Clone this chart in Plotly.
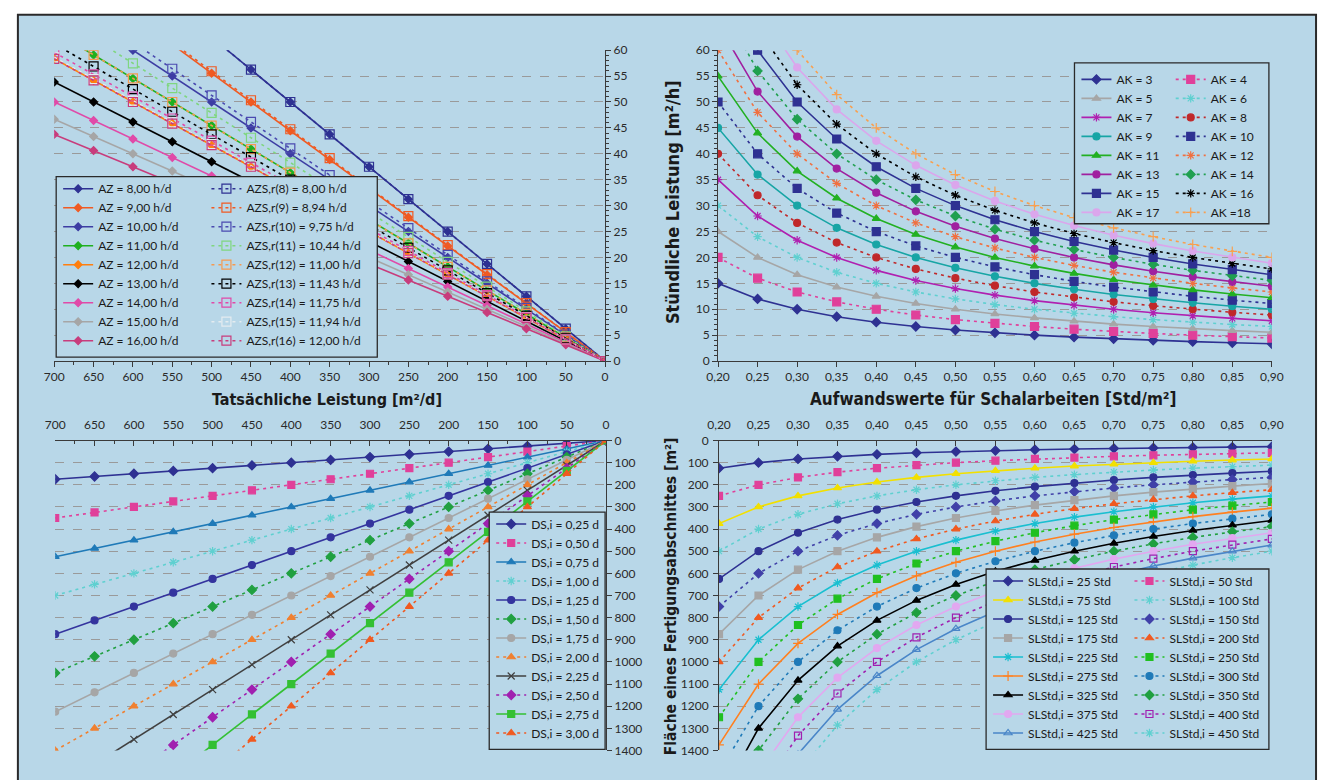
import plotly.graph_objects as go

W, H = 1330, 780

# ---------------- shared x values ----------------
leistung = [700, 650, 600, 550, 500, 450, 400, 350, 300, 250, 200, 150, 100, 50, 0]
aufwand = [0.20, 0.25, 0.30, 0.35, 0.40, 0.45, 0.50, 0.55, 0.60, 0.65, 0.70, 0.75, 0.80, 0.85, 0.90]

# ---------------- top left: Stündliche Leistung vs. tatsächliche Leistung ----------------
az_labels = ["AZ = 8,00 h/d", "AZ = 9,00 h/d", "AZ = 10,00 h/d", "AZ = 11,00 h/d", "AZ = 12,00 h/d",
             "AZ = 13,00 h/d", "AZ = 14,00 h/d", "AZ = 15,00 h/d", "AZ = 16,00 h/d"]
y_az8 = [87.5, 81.25, 75.0, 68.75, 62.5, 56.25, 50.0, 43.75, 37.5, 31.25, 25.0, 18.75, 12.5, 6.25, 0]
y_az9 = [77.78, 72.22, 66.67, 61.11, 55.56, 50.0, 44.44, 38.89, 33.33, 27.78, 22.22, 16.67, 11.11, 5.56, 0]
y_az10 = [70.0, 65.0, 60.0, 55.0, 50.0, 45.0, 40.0, 35.0, 30.0, 25.0, 20.0, 15.0, 10.0, 5.0, 0]
y_az11 = [63.64, 59.09, 54.55, 50.0, 45.45, 40.91, 36.36, 31.82, 27.27, 22.73, 18.18, 13.64, 9.09, 4.55, 0]
y_az12 = [58.33, 54.17, 50.0, 45.83, 41.67, 37.5, 33.33, 29.17, 25.0, 20.83, 16.67, 12.5, 8.33, 4.17, 0]
y_az13 = [53.85, 50.0, 46.15, 42.31, 38.46, 34.62, 30.77, 26.92, 23.08, 19.23, 15.38, 11.54, 7.69, 3.85, 0]
y_az14 = [50.0, 46.43, 42.86, 39.29, 35.71, 32.14, 28.57, 25.0, 21.43, 17.86, 14.29, 10.71, 7.14, 3.57, 0]
y_az15 = [46.67, 43.33, 40.0, 36.67, 33.33, 30.0, 26.67, 23.33, 20.0, 16.67, 13.33, 10.0, 6.67, 3.33, 0]
y_az16 = [43.75, 40.63, 37.5, 34.38, 31.25, 28.13, 25.0, 21.88, 18.75, 15.63, 12.5, 9.38, 6.25, 3.13, 0]

azs_labels = ["AZS,r(8) = 8,00 h/d", "AZS,r(9) = 8,94 h/d", "AZS,r(10) = 9,75 h/d", "AZS,r(11) = 10,44 h/d",
              "AZS,r(12) = 11,00 h/d", "AZS,r(13) = 11,43 h/d", "AZS,r(14) = 11,75 h/d",
              "AZS,r(15) = 11,94 h/d", "AZS,r(16) = 12,00 h/d"]
y_azs8 = [87.5, 81.25, 75.0, 68.75, 62.5, 56.25, 50.0, 43.75, 37.5, 31.25, 25.0, 18.75, 12.5, 6.25, 0]
y_azs9 = [78.3, 72.71, 67.11, 61.52, 55.93, 50.34, 44.74, 39.15, 33.56, 27.96, 22.37, 16.78, 11.19, 5.59, 0]
y_azs10 = [71.79, 66.67, 61.54, 56.41, 51.28, 46.15, 41.03, 35.9, 30.77, 25.64, 20.51, 15.38, 10.26, 5.13, 0]
y_azs11 = [67.05, 62.26, 57.47, 52.68, 47.89, 43.1, 38.31, 33.52, 28.74, 23.95, 19.16, 14.37, 9.58, 4.79, 0]
y_azs12 = [63.64, 59.09, 54.55, 50.0, 45.45, 40.91, 36.36, 31.82, 27.27, 22.73, 18.18, 13.64, 9.09, 4.55, 0]
y_azs13 = [61.24, 56.87, 52.49, 48.12, 43.74, 39.37, 35.0, 30.62, 26.25, 21.87, 17.5, 13.12, 8.75, 4.37, 0]
y_azs14 = [59.57, 55.32, 51.06, 46.81, 42.55, 38.3, 34.04, 29.79, 25.53, 21.28, 17.02, 12.77, 8.51, 4.26, 0]
y_azs15 = [58.63, 54.44, 50.25, 46.06, 41.88, 37.69, 33.5, 29.31, 25.13, 20.94, 16.75, 12.56, 8.38, 4.19, 0]
y_azs16 = [58.33, 54.17, 50.0, 45.83, 41.67, 37.5, 33.33, 29.17, 25.0, 20.83, 16.67, 12.5, 8.33, 4.17, 0]

# ---------------- top right: Stündliche Leistung vs. Aufwandswerte ----------------
ak_labels = ["AK = 3", "AK = 4", "AK = 5", "AK = 6", "AK = 7", "AK = 8", "AK = 9", "AK = 10",
             "AK = 11", "AK = 12", "AK = 13", "AK = 14", "AK = 15", "AK = 16", "AK = 17", "AK =18"]
y_ak3 = [15, 12, 10, 8.57, 7.5, 6.67, 6, 5.45, 5, 4.62, 4.29, 4, 3.75, 3.53, 3.33]
y_ak4 = [20, 16, 13.33, 11.43, 10, 8.89, 8, 7.27, 6.67, 6.15, 5.71, 5.33, 5, 4.71, 4.44]
y_ak5 = [25, 20, 16.67, 14.29, 12.5, 11.11, 10, 9.09, 8.33, 7.69, 7.14, 6.67, 6.25, 5.88, 5.56]
y_ak6 = [30, 24, 20, 17.14, 15, 13.33, 12, 10.91, 10, 9.23, 8.57, 8, 7.5, 7.06, 6.67]
y_ak7 = [35, 28, 23.33, 20, 17.5, 15.56, 14, 12.73, 11.67, 10.77, 10, 9.33, 8.75, 8.24, 7.78]
y_ak8 = [40, 32, 26.67, 22.86, 20, 17.78, 16, 14.55, 13.33, 12.31, 11.43, 10.67, 10, 9.41, 8.89]
y_ak9 = [45, 36, 30, 25.71, 22.5, 20, 18, 16.36, 15, 13.85, 12.86, 12, 11.25, 10.59, 10]
y_ak10 = [50, 40, 33.33, 28.57, 25, 22.22, 20, 18.18, 16.67, 15.38, 14.29, 13.33, 12.5, 11.76, 11.11]
y_ak11 = [55, 44, 36.67, 31.43, 27.5, 24.44, 22, 20, 18.33, 16.92, 15.71, 14.67, 13.75, 12.94, 12.22]
y_ak12 = [60, 48, 40, 34.29, 30, 26.67, 24, 21.82, 20, 18.46, 17.14, 16, 15, 14.12, 13.33]
y_ak13 = [65, 52, 43.33, 37.14, 32.5, 28.89, 26, 23.64, 21.67, 20, 18.57, 17.33, 16.25, 15.29, 14.44]
y_ak14 = [70, 56, 46.67, 40, 35, 31.11, 28, 25.45, 23.33, 21.54, 20, 18.67, 17.5, 16.47, 15.56]
y_ak15 = [75, 60, 50, 42.86, 37.5, 33.33, 30, 27.27, 25, 23.08, 21.43, 20, 18.75, 17.65, 16.67]
y_ak16 = [80, 64, 53.33, 45.71, 40, 35.56, 32, 29.09, 26.67, 24.62, 22.86, 21.33, 20, 18.82, 17.78]
y_ak17 = [85, 68, 56.67, 48.57, 42.5, 37.78, 34, 30.91, 28.33, 26.15, 24.29, 22.67, 21.25, 20, 18.89]
y_ak18 = [90, 72, 60, 51.43, 45, 40, 36, 32.73, 30, 27.69, 25.71, 24, 22.5, 21.18, 20]

# ---------------- bottom left: Fläche vs. tatsächliche Leistung ----------------
ds_labels = ["DS,i = 0,25 d", "DS,i = 0,50 d", "DS,i = 0,75 d", "DS,i = 1,00 d", "DS,i = 1,25 d",
             "DS,i = 1,50 d", "DS,i = 1,75 d", "DS,i = 2,00 d", "DS,i = 2,25 d", "DS,i = 2,50 d",
             "DS,i = 2,75 d", "DS,i = 3,00 d"]
a_ds025 = [175, 162.5, 150, 137.5, 125, 112.5, 100, 87.5, 75, 62.5, 50, 37.5, 25, 12.5, 0]
a_ds050 = [350, 325, 300, 275, 250, 225, 200, 175, 150, 125, 100, 75, 50, 25, 0]
a_ds075 = [525, 487.5, 450, 412.5, 375, 337.5, 300, 262.5, 225, 187.5, 150, 112.5, 75, 37.5, 0]
a_ds100 = [700, 650, 600, 550, 500, 450, 400, 350, 300, 250, 200, 150, 100, 50, 0]
a_ds125 = [875, 812.5, 750, 687.5, 625, 562.5, 500, 437.5, 375, 312.5, 250, 187.5, 125, 62.5, 0]
a_ds150 = [1050, 975, 900, 825, 750, 675, 600, 525, 450, 375, 300, 225, 150, 75, 0]
a_ds175 = [1225, 1137.5, 1050, 962.5, 875, 787.5, 700, 612.5, 525, 437.5, 350, 262.5, 175, 87.5, 0]
a_ds200 = [1400, 1300, 1200, 1100, 1000, 900, 800, 700, 600, 500, 400, 300, 200, 100, 0]
a_ds225 = [1575, 1462.5, 1350, 1237.5, 1125, 1012.5, 900, 787.5, 675, 562.5, 450, 337.5, 225, 112.5, 0]
a_ds250 = [1750, 1625, 1500, 1375, 1250, 1125, 1000, 875, 750, 625, 500, 375, 250, 125, 0]
a_ds275 = [1925, 1787.5, 1650, 1512.5, 1375, 1237.5, 1100, 962.5, 825, 687.5, 550, 412.5, 275, 137.5, 0]
a_ds300 = [2100, 1950, 1800, 1650, 1500, 1350, 1200, 1050, 900, 750, 600, 450, 300, 150, 0]

# ---------------- bottom right: Fläche vs. Aufwandswerte ----------------
sl_labels = ["SLStd,i = 25 Std", "SLStd,i = 50 Std", "SLStd,i = 75 Std", "SLStd,i = 100 Std",
             "SLStd,i = 125 Std", "SLStd,i = 150 Std", "SLStd,i = 175 Std", "SLStd,i = 200 Std",
             "SLStd,i = 225 Std", "SLStd,i = 250 Std", "SLStd,i = 275 Std", "SLStd,i = 300 Std",
             "SLStd,i = 325 Std", "SLStd,i = 350 Std", "SLStd,i = 375 Std", "SLStd,i = 400 Std",
             "SLStd,i = 425 Std", "SLStd,i = 450 Std"]
a_sl25 = [125, 100, 83.33, 71.43, 62.5, 55.56, 50, 45.45, 41.67, 38.46, 35.71, 33.33, 31.25, 29.41, 27.78]
a_sl50 = [250, 200, 166.67, 142.86, 125, 111.11, 100, 90.91, 83.33, 76.92, 71.43, 66.67, 62.5, 58.82, 55.56]
a_sl75 = [375, 300, 250, 214.29, 187.5, 166.67, 150, 136.36, 125, 115.38, 107.14, 100, 93.75, 88.24, 83.33]
a_sl100 = [500, 400, 333.33, 285.71, 250, 222.22, 200, 181.82, 166.67, 153.85, 142.86, 133.33, 125, 117.65, 111.11]
a_sl125 = [625, 500, 416.67, 357.14, 312.5, 277.78, 250, 227.27, 208.33, 192.31, 178.57, 166.67, 156.25, 147.06, 138.89]
a_sl150 = [750, 600, 500, 428.57, 375, 333.33, 300, 272.73, 250, 230.77, 214.29, 200, 187.5, 176.47, 166.67]
a_sl175 = [875, 700, 583.33, 500, 437.5, 388.89, 350, 318.18, 291.67, 269.23, 250, 233.33, 218.75, 205.88, 194.44]
a_sl200 = [1000, 800, 666.67, 571.43, 500, 444.44, 400, 363.64, 333.33, 307.69, 285.71, 266.67, 250, 235.29, 222.22]
a_sl225 = [1125, 900, 750, 642.86, 562.5, 500, 450, 409.09, 375, 346.15, 321.43, 300, 281.25, 264.71, 250]
a_sl250 = [1250, 1000, 833.33, 714.29, 625, 555.56, 500, 454.55, 416.67, 384.62, 357.14, 333.33, 312.5, 294.12, 277.78]
a_sl275 = [1375, 1100, 916.67, 785.71, 687.5, 611.11, 550, 500, 458.33, 423.08, 392.86, 366.67, 343.75, 323.53, 305.56]
a_sl300 = [1500, 1200, 1000, 857.14, 750, 666.67, 600, 545.45, 500, 461.54, 428.57, 400, 375, 352.94, 333.33]
a_sl325 = [1625, 1300, 1083.33, 928.57, 812.5, 722.22, 650, 590.91, 541.67, 500, 464.29, 433.33, 406.25, 382.35, 361.11]
a_sl350 = [1750, 1400, 1166.67, 1000, 875, 777.78, 700, 636.36, 583.33, 538.46, 500, 466.67, 437.5, 411.76, 388.89]
a_sl375 = [1875, 1500, 1250, 1071.43, 937.5, 833.33, 750, 681.82, 625, 576.92, 535.71, 500, 468.75, 441.18, 416.67]
a_sl400 = [2000, 1600, 1333.33, 1142.86, 1000, 888.89, 800, 727.27, 666.67, 615.38, 571.43, 533.33, 500, 470.59, 444.44]
a_sl425 = [2125, 1700, 1416.67, 1214.29, 1062.5, 944.44, 850, 772.73, 708.33, 653.85, 607.14, 566.67, 531.25, 500, 472.22]
a_sl450 = [2250, 1800, 1500, 1285.71, 1125, 1000, 900, 818.18, 750, 692.31, 642.86, 600, 562.5, 529.41, 500]

# ---------------- styles ----------------
NAVY = "#2e3192"
az_colors = [NAVY, "#f05a22", "#3d3da3", "#1fb01f", "#ff7f0e", "#000000", "#e04aa8", "#a6a6a6", "#c83c7c"]
azs_colors = [NAVY, "#f05a22", "#4a4ab0", "#7fd67f", "#f59a50", "#000000", "#e04aa8", "#e4ecf0", "#c83c7c"]
ak_colors = [NAVY, "#e0409a", "#a6a6a6", "#5fd0d0", "#b020b0", "#c0282a", "#17a5a5", NAVY,
             "#22b022", "#f07040", "#a020a0", "#20a050", NAVY, "#000000", "#dba6ec", "#f8a050"]
ak_symbols = ["diamond", "square", "triangle-up", "asterisk-open", "asterisk-open", "circle", "circle", "square",
              "triangle-up", "asterisk-open", "circle", "diamond", "square", "asterisk-open", "circle", "cross-thin-open"]
ds_colors = [NAVY, "#e0409a", "#1f7ab8", "#5fd0d0", "#34349e", "#20a040", "#a6a6a6", "#f08030",
             "#404040", "#a020b0", "#33c033", "#f05a20"]
ds_symbols = ["diamond", "square", "triangle-up", "asterisk-open", "circle", "diamond", "circle", "triangle-up",
              "x-thin-open", "diamond", "square", "triangle-up"]
sl_colors = [NAVY, "#e0409a", "#f2e000", "#5fd0d0", NAVY, "#4040a8", "#a6a6a6", "#f05a20", "#19bfd0",
             "#20c020", "#ff8020", "#1f7ab8", "#000000", "#20a040", "#e2a8f0", "#a020b0", "#4a86c8", "#5fd0d0"]
sl_symbols = ["diamond", "square", "triangle-up", "asterisk-open", "circle", "diamond", "square", "triangle-up",
              "asterisk-open", "square", "cross-thin-open", "circle", "triangle-up", "diamond", "circle",
              "square-open", "triangle-up-open", "asterisk-open"]

DASH = "3px,4px"
FONT = "Lato, 'Open Sans', sans-serif"
TFONT = "'Liberation Sans Narrow', 'DejaVu Sans Condensed', 'Arial Narrow', sans-serif"
BG = "#b8d7e8"


def px(x):
    return x / W


def py(y):
    return 1 - y / H


fig = go.Figure()


def add(x, y, name, color, symbol, dashed, xa, ya, legend, size=6):
    fig.add_trace(go.Scatter(
        x=x, y=y, name=name, mode="lines+markers", xaxis=xa, yaxis=ya, legend=legend,
        line=dict(color=color, width=1.6, dash=DASH if dashed else "solid"),
        marker=dict(symbol=symbol, size=size, color=color, line=dict(color=color, width=1.2)),
    ))


tl_az = [y_az8, y_az9, y_az10, y_az11, y_az12, y_az13, y_az14, y_az15, y_az16]
tl_azs = [y_azs8, y_azs9, y_azs10, y_azs11, y_azs12, y_azs13, y_azs14, y_azs15, y_azs16]
for yv, lab, c in zip(tl_az, az_labels, az_colors):
    add(leistung, yv, lab, c, "diamond", False, "x", "y", "legend", 6)
for yv, lab, c in zip(tl_azs, azs_labels, azs_colors):
    add(leistung, yv, lab, c, "square-open", True, "x", "y", "legend2", 9)

tr_ak = [y_ak3, y_ak4, y_ak5, y_ak6, y_ak7, y_ak8, y_ak9, y_ak10, y_ak11, y_ak12, y_ak13, y_ak14,
         y_ak15, y_ak16, y_ak17, y_ak18]
for i, (yv, lab) in enumerate(zip(tr_ak, ak_labels)):
    add(aufwand, yv, lab, ak_colors[i], ak_symbols[i], i % 2 == 1, "x2", "y2",
        "legend3" if i % 2 == 0 else "legend4", 8 if ak_symbols[i] == "square" else 7)

bl_ds = [a_ds025, a_ds050, a_ds075, a_ds100, a_ds125, a_ds150, a_ds175, a_ds200, a_ds225, a_ds250,
         a_ds275, a_ds300]
for i, (yv, lab) in enumerate(zip(bl_ds, ds_labels)):
    add(leistung, yv, lab, ds_colors[i], ds_symbols[i], i % 2 == 1, "x3", "y3", "legend5", 7)

br_sl = [a_sl25, a_sl50, a_sl75, a_sl100, a_sl125, a_sl150, a_sl175, a_sl200, a_sl225, a_sl250,
         a_sl275, a_sl300, a_sl325, a_sl350, a_sl375, a_sl400, a_sl425, a_sl450]
for i, (yv, lab) in enumerate(zip(br_sl, sl_labels)):
    add(aufwand, yv, lab, sl_colors[i], sl_symbols[i], i % 2 == 1, "x4", "y4",
        "legend6" if i % 2 == 0 else "legend7", 7)

tickfont = dict(family=FONT, size=12, color="#2a2a2a")
axis_common = dict(showline=True, linecolor="#3a3a3a", linewidth=1, zeroline=False, tickfont=tickfont,
                   tickcolor="#3a3a3a", ticklen=5, fixedrange=True)
grid = dict(showgrid=True, gridcolor="#9a9a9a", gridwidth=1, griddash="dash")

TLX = [px(43), px(604)]
TRX = [px(719), px(1283)]
BLX = [px(44), px(605)]
BRX = [px(720), px(1283)]
TOPY = [py(360), py(43)]
BOTY = [py(757), py(441)]

fig.update_layout(
    xaxis=dict(domain=TLX, range=[700, 0], anchor="y", side="bottom", tick0=0, dtick=50, ticks="outside",
               showgrid=False, minor=dict(dtick=25, ticks="outside", ticklen=3, tickcolor="#3a3a3a"),
               **axis_common),
    yaxis=dict(domain=TOPY, range=[0, 60], anchor="x", side="right", dtick=5, ticks="outside",
               minor=dict(dtick=1, ticks="outside", ticklen=3, tickcolor="#3a3a3a"), **grid, **axis_common),
    xaxis2=dict(domain=TRX, range=[0.2, 0.9], anchor="y2", side="bottom", tick0=0.2, dtick=0.05,
                tickformat=".2f", ticks="outside", showgrid=False, **axis_common),
    yaxis2=dict(domain=TOPY, range=[0, 60], anchor="x2", side="left", dtick=5, ticks="outside",
                minor=dict(dtick=1, ticks="outside", ticklen=3, tickcolor="#3a3a3a"), **grid, **axis_common),
    xaxis3=dict(domain=BLX, range=[700, 0], anchor="y3", side="top", tick0=0, dtick=50, ticks="inside",
                showgrid=False, ticklabelstandoff=6,
                minor=dict(dtick=25, ticks="inside", ticklen=3, tickcolor="#3a3a3a"),
                **axis_common),
    yaxis3=dict(domain=BOTY, range=[1400, 0], anchor="x3", side="right", dtick=100, ticks="outside",
                **grid, **axis_common),
    xaxis4=dict(domain=BRX, range=[0.2, 0.9], anchor="y4", side="top", tick0=0.2, dtick=0.05,
                tickformat=".2f", ticks="inside", showgrid=False, ticklabelstandoff=6, **axis_common),
    yaxis4=dict(domain=BOTY, range=[1400, 0], anchor="x4", side="left", dtick=100, ticks="outside",
                ticklabelstandoff=2, **grid, **axis_common),
)

legfont = dict(family=FONT, size=12, color="#1a1a1a")


def leg(x, y, yanchor):
    return dict(x=px(x), y=py(y), xanchor="left", yanchor=yanchor, bgcolor="rgba(0,0,0,0)",
                borderwidth=0, font=legfont, itemwidth=30, tracegroupgap=0, itemclick=False,
                itemdoubleclick=False)


fig.update_layout(
    legend=leg(47, 354, "bottom"),
    legend2=leg(198, 354, "bottom"),
    legend3=leg(1084, 58, "top"),
    legend4=leg(1180, 58, "top"),
    legend5=leg(488, 754, "bottom"),
    legend6=leg(994, 754, "bottom"),
    legend7=leg(1138, 754, "bottom"),
)

shapes = [
    dict(type="rect", xref="paper", yref="paper", x0=px(6), x1=px(1328), y0=py(790), y1=py(7),
         fillcolor=BG, line=dict(color="#2a2a2a", width=2), layer="below"),
]
for (x0, y0, x1, y1) in [(45, 172, 372, 356), (1082, 56, 1280, 220), (486, 514, 604, 756), (992, 572, 1280, 756)]:
    shapes.append(dict(type="rect", xref="paper", yref="paper", x0=px(x0), x1=px(x1), y0=py(y1), y1=py(y0),
                       fillcolor=BG, line=dict(color="#2a2a2a", width=1.3), layer="above"))

titlefont = dict(family=TFONT, size=16, color="#1a1a1a")
annotations = [
    dict(text="<b>Tatsächliche Leistung [m²/d]</b>", x=px(321), y=py(399), xref="paper", yref="paper",
         showarrow=False, font=titlefont, xanchor="center", yanchor="middle"),
    dict(text="<b>Aufwandswerte für Schalarbeiten [Std/m²]</b>", x=px(1000), y=py(399), xref="paper",
         yref="paper", showarrow=False, font=dict(family=TFONT, size=17, color="#1a1a1a"),
         xanchor="center", yanchor="middle"),
    dict(text="<b>Stündliche Leistung [m²/h]</b>", x=px(672), y=py(198), xref="paper", yref="paper",
         showarrow=False, font=dict(family=TFONT, size=18, color="#1a1a1a"), textangle=-90,
         xanchor="center", yanchor="middle"),
    dict(text="<b>Fläche eines Fertigungsabschnittes [m²]</b>", x=px(672), y=py(600), xref="paper",
         yref="paper", showarrow=False, font=dict(family=TFONT, size=15.5, color="#1a1a1a"), textangle=-90,
         xanchor="center", yanchor="middle"),
]

fig.update_layout(
    width=W, height=H, margin=dict(l=0, r=0, t=0, b=0), autosize=False,
    paper_bgcolor="white", plot_bgcolor="white", separators=",.",
    shapes=shapes, annotations=annotations, hovermode=False,
    font=dict(family=FONT, color="#1a1a1a"),
)

fig.write_html("out.html", config={"displayModeBar": False},
               post_script="document.body.style.margin='0';")
